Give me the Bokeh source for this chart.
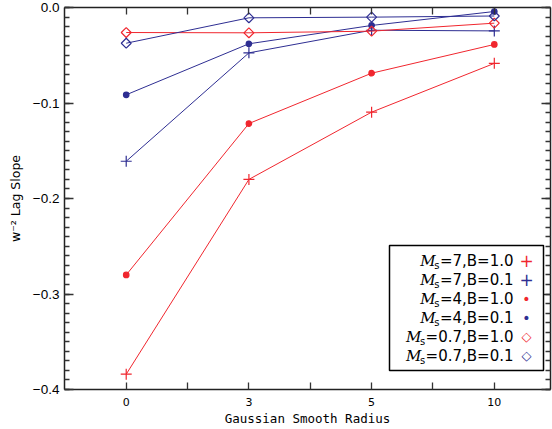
import math
from bokeh.plotting import figure
from bokeh.models import (Range1d, LinearAxis, FixedTicker, CustomJSTickFormatter,
                          Label, BoxAnnotation)
from bokeh.embed import file_html
from bokeh.resources import INLINE

# ---- data ----
categories = ["0", "3", "5", "10"]          # Gaussian smooth radius
ms7_b10 = [-0.384, -0.180, -0.1096, -0.0585]
ms7_b01 = [-0.161, -0.0475, -0.0238, -0.0245]
ms4_b10 = [-0.280, -0.1215, -0.0688, -0.0387]
ms4_b01 = [-0.0914, -0.0380, -0.0188, -0.0042]
ms07_b10 = [-0.0262, -0.0265, -0.0248, -0.0164]
ms07_b01 = [-0.0374, -0.0108, -0.0101, -0.0089]

legend_labels = [("7", "1.0"), ("7", "0.1"), ("4", "1.0"), ("4", "0.1"), ("0.7", "1.0"), ("0.7", "0.1")]

RED = "#f0262e"
BLUE = "#2e2e92"

xs = list(range(len(categories)))

p = figure(width=552, height=429, output_backend="svg", toolbar_location=None,
           x_range=Range1d(-0.503, 3.458), y_range=Range1d(-0.4, 0.0),
           min_border_left=64, min_border_right=2, min_border_top=7, min_border_bottom=40,
           x_axis_location=None, y_axis_location=None)
p.outline_line_color = None
p.grid.visible = False
p.background_fill_color = "white"
p.border_fill_color = "white"

yticks = [round(-0.4 + 0.1 * i, 2) for i in range(5)]
yminor = [round(-0.4 + 0.01 * i, 3) for i in range(41)]
xminor = [i + 0.5 for i in range(len(categories) - 1)]

fmt_y = CustomJSTickFormatter(code="""
if (Math.abs(tick) < 1e-9) return '0.0';
return tick.toFixed(1).replace('-', '\\u2212');
""")
fmt_empty = CustomJSTickFormatter(code="return '';")

def style(ax):
    ax.axis_line_width = 1.5
    ax.axis_line_color = "#222222"
    ax.major_tick_line_color = "#333333"
    ax.minor_tick_line_color = "#333333"
    ax.major_tick_line_width = 1.3
    ax.minor_tick_line_width = 1.3
    ax.major_tick_out = 0
    ax.minor_tick_out = 0
    ax.major_label_text_color = "black"
    ax.axis_label_text_color = "black"

# left axis
yl = LinearAxis(ticker=FixedTicker(ticks=yticks, minor_ticks=yminor), formatter=fmt_y)
style(yl)
yl.major_tick_in = 9
yl.minor_tick_in = 5
yl.major_label_standoff = 5
yl.major_label_text_font = "Liberation Sans"
yl.major_label_text_font_size = "13.5px"
yl.axis_label = "w\u207b\u00b2 Lag Slope"
yl.axis_label_text_font = "DejaVu Sans"
yl.axis_label_text_font_size = "12.5px"
yl.axis_label_text_font_style = "normal"
yl.axis_label_standoff = 7
p.add_layout(yl, "left")

# right axis
yr = LinearAxis(ticker=FixedTicker(ticks=yticks, minor_ticks=yminor), formatter=fmt_empty)
style(yr)
yr.major_tick_in = 9
yr.minor_tick_in = 5
yr.major_label_standoff = 0
p.add_layout(yr, "right")

# bottom axis
xb = LinearAxis(ticker=FixedTicker(ticks=xs, minor_ticks=xminor))
style(xb)
xb.major_tick_in = 7
xb.minor_tick_in = 7
xb.major_label_overrides = {i: c for i, c in enumerate(categories)}
xb.major_label_standoff = 8
xb.major_label_text_font = "DejaVu Sans"
xb.major_label_text_font_size = "11px"
xb.axis_label = "Gaussian Smooth Radius"
xb.axis_label_text_font = "DejaVu Sans Mono"
xb.axis_label_text_font_size = "12.5px"
xb.axis_label_text_font_style = "normal"
xb.axis_label_standoff = 2
p.add_layout(xb, "below")

# top axis
xt = LinearAxis(ticker=FixedTicker(ticks=xs, minor_ticks=xminor), formatter=fmt_empty)
style(xt)
xt.major_tick_in = 7
xt.minor_tick_in = 7
xt.major_label_standoff = 0
p.add_layout(xt, "above")

# ---- series ----
series = [
    (ms7_b10, RED, "cross", 11, False),
    (ms7_b01, BLUE, "cross", 11, False),
    (ms4_b10, RED, "circle", 5.5, True),
    (ms4_b01, BLUE, "circle", 5.5, True),
    (ms07_b10, RED, "square", 7, False),
    (ms07_b01, BLUE, "square", 7, False),
]
for ys, col, mk, sz, filled in series:
    p.line(xs, ys, line_color=col, line_width=1)
    kw = dict(marker=mk, size=sz, line_color=col, line_width=1.2)
    if mk == "square":
        kw["angle"] = math.pi / 4
    kw["fill_color"] = col if filled else None
    p.scatter(xs, ys, **kw)

# ---- custom legend (text left, glyph right) ----
p.add_layout(BoxAnnotation(left=325, right=479, bottom=19, top=144,
                           left_units="screen", right_units="screen",
                           bottom_units="screen", top_units="screen",
                           fill_color="white", fill_alpha=1.0,
                           line_color="black", line_alpha=1.0, line_width=1.5,
                           level="annotation"))

W = {"=": 1716, ",": 651, ".": 651, "B": 1405, "s": 1067, "M": 1767}
for d in "0123456789":
    W[d] = 1303

def text_w(s, size):
    return sum(W.get(c, 1303) for c in s) / 2048.0 * size

FS = 15
glyph_chars = [("+", RED, "17px"), ("+", BLUE, "17px"), ("\u2022", RED, "14px"),
               ("\u2022", BLUE, "14px"), ("\u25c7", RED, "13px"), ("\u25c7", BLUE, "13px")]
row_y = [389 - y for y in (260, 279, 298, 317, 336, 355)]
x_end = 449

def lab(**kw):
    base = dict(x_units="screen", y_units="screen", text_baseline="middle",
                text_color="black", level="overlay")
    base.update(kw)
    p.add_layout(Label(**base))

for (ms, b), fy, (gch, gcol, gfs) in zip(legend_labels, row_y, glyph_chars):
    main = "=" + ms + ",B=" + b
    wm = text_w(main, FS)
    lab(x=x_end, y=fy, text=main, text_align="right",
        text_font="DejaVu Sans", text_font_size=f"{FS}px")
    sx = x_end - wm - 0.5
    lab(x=sx, y=fy - 5, text="s", text_align="right",
        text_font="DejaVu Sans", text_font_size="10px")
    mx = sx - text_w("s", 10) + 1.5
    lab(x=mx, y=fy, text="M", text_align="right",
        text_font="DejaVu Serif", text_font_style="italic", text_font_size=f"{FS}px")
    lab(x=462, y=fy, text=gch, text_align="center",
        text_font="DejaVu Sans", text_font_size=gfs, text_color=gcol)

open("out.html", "w").write(file_html(p, INLINE))
